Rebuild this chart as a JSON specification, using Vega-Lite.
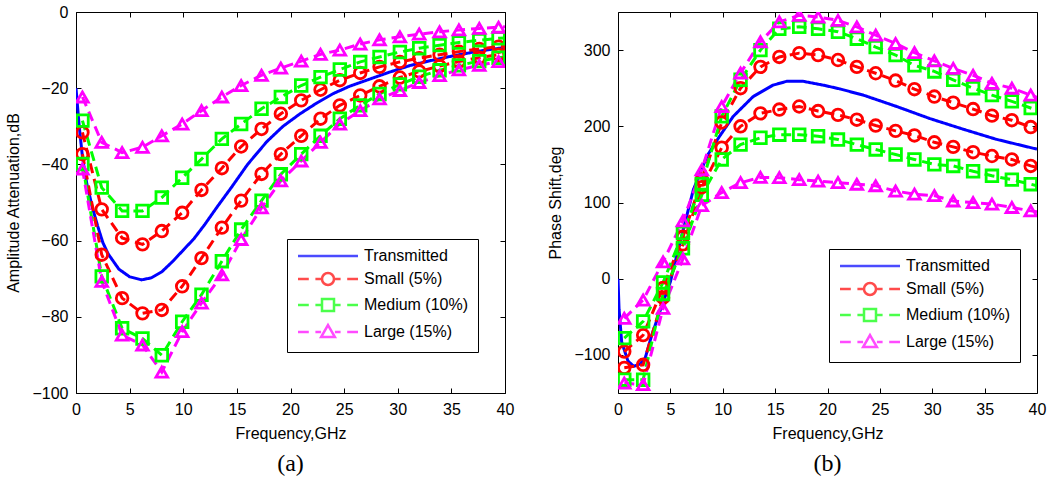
{
"$schema":"https://vega.github.io/schema/vega-lite/v6.json",
"background":"white",
"padding":{"left":5,"top":3,"right":5,"bottom":0},
"spacing":113,
"bounds":"flush",
"config":{
 "font":"Liberation Sans",
 "view":{"stroke":"black","strokeWidth":1},
 "axis":{"labelFont":"Liberation Sans","labelFontSize":16,"labelColor":"black","titleFont":"Liberation Sans","titleFontSize":16,"titleFontWeight":"normal","titleColor":"black","domain":false,"grid":false,"tickColor":"black","tickSize":-5,"tickWidth":1,"labelPadding":13,"labelFlush":false,"labelOverlap":false},
 "title":{"font":"Liberation Serif","fontSize":24,"fontWeight":"normal","color":"black","orient":"bottom","anchor":"middle","offset":11}
},
"datasets":{"c":[
{"p":"a","s":"T","b":"u","f":0,"v":-20,"m":0},{"p":"a","s":"T","b":"u","f":0.3,"v":-30,"m":0},{"p":"a","s":"T","b":"u","f":0.6,"v":-38,"m":0},{"p":"a","s":"T","b":"u","f":1,"v":-45,"m":0},{"p":"a","s":"T","b":"u","f":1.5,"v":-51,"m":0},{"p":"a","s":"T","b":"u","f":2,"v":-56,"m":0},{"p":"a","s":"T","b":"u","f":2.5,"v":-60.5,"m":0},{"p":"a","s":"T","b":"u","f":3,"v":-63.5,"m":0},{"p":"a","s":"T","b":"u","f":4,"v":-67.5,"m":0},{"p":"a","s":"T","b":"u","f":5,"v":-69.5,"m":0},{"p":"a","s":"T","b":"u","f":6.1,"v":-70.3,"m":0},{"p":"a","s":"T","b":"u","f":7,"v":-69.8,"m":0},{"p":"a","s":"T","b":"u","f":8,"v":-68.2,"m":0},{"p":"a","s":"T","b":"u","f":9,"v":-65.5,"m":0},{"p":"a","s":"T","b":"u","f":10,"v":-62.5,"m":0},{"p":"a","s":"T","b":"u","f":11,"v":-59.5,"m":0},{"p":"a","s":"T","b":"u","f":12,"v":-55.8,"m":0},{"p":"a","s":"T","b":"u","f":13.2,"v":-51,"m":0},{"p":"a","s":"T","b":"u","f":14.5,"v":-46,"m":0},{"p":"a","s":"T","b":"u","f":16,"v":-40,"m":0},{"p":"a","s":"T","b":"u","f":17.8,"v":-34,"m":0},{"p":"a","s":"T","b":"u","f":19.3,"v":-30,"m":0},{"p":"a","s":"T","b":"u","f":20.9,"v":-26.7,"m":0},{"p":"a","s":"T","b":"u","f":22.5,"v":-23.8,"m":0},{"p":"a","s":"T","b":"u","f":24,"v":-21.4,"m":0},{"p":"a","s":"T","b":"u","f":25.5,"v":-19.5,"m":0},{"p":"a","s":"T","b":"u","f":27.1,"v":-17.9,"m":0},{"p":"a","s":"T","b":"u","f":29,"v":-16,"m":0},{"p":"a","s":"T","b":"u","f":31.2,"v":-14,"m":0},{"p":"a","s":"T","b":"u","f":33,"v":-12.8,"m":0},{"p":"a","s":"T","b":"u","f":35,"v":-11.6,"m":0},{"p":"a","s":"T","b":"u","f":37.5,"v":-10.3,"m":0},{"p":"a","s":"T","b":"u","f":40,"v":-9.3,"m":0},

{"p":"a","s":"S","b":"u","f":0.6,"v":-31.6,"m":1},{"p":"a","s":"S","b":"u","f":2.4,"v":-51.8,"m":1},{"p":"a","s":"S","b":"u","f":4.3,"v":-59.3,"m":1},{"p":"a","s":"S","b":"u","f":6.2,"v":-61,"m":1},{"p":"a","s":"S","b":"u","f":8,"v":-57.5,"m":1},{"p":"a","s":"S","b":"u","f":9.9,"v":-52.7,"m":1},{"p":"a","s":"S","b":"u","f":11.7,"v":-46.7,"m":1},{"p":"a","s":"S","b":"u","f":13.6,"v":-41,"m":1},{"p":"a","s":"S","b":"u","f":15.4,"v":-35.3,"m":1},{"p":"a","s":"S","b":"u","f":17.3,"v":-30.7,"m":1},{"p":"a","s":"S","b":"u","f":19.1,"v":-26.7,"m":1},{"p":"a","s":"S","b":"u","f":21,"v":-23.2,"m":1},{"p":"a","s":"S","b":"u","f":22.8,"v":-20.4,"m":1},{"p":"a","s":"S","b":"u","f":24.6,"v":-17.9,"m":1},{"p":"a","s":"S","b":"u","f":26.5,"v":-16,"m":1},{"p":"a","s":"S","b":"u","f":28.3,"v":-14.4,"m":1},{"p":"a","s":"S","b":"u","f":30.2,"v":-13.1,"m":1},{"p":"a","s":"S","b":"u","f":32,"v":-12.1,"m":1},{"p":"a","s":"S","b":"u","f":33.9,"v":-11.2,"m":1},{"p":"a","s":"S","b":"u","f":35.7,"v":-10.4,"m":1},{"p":"a","s":"S","b":"u","f":37.6,"v":-9.7,"m":1},{"p":"a","s":"S","b":"u","f":39.4,"v":-9.1,"m":1},{"p":"a","s":"S","b":"u","f":40,"v":-9,"m":0},

{"p":"a","s":"S","b":"l","f":0.6,"v":-37.3,"m":1},{"p":"a","s":"S","b":"l","f":2.4,"v":-63.7,"m":1},{"p":"a","s":"S","b":"l","f":4.3,"v":-75.1,"m":1},{"p":"a","s":"S","b":"l","f":6.2,"v":-79.1,"m":1},{"p":"a","s":"S","b":"l","f":8,"v":-78.2,"m":1},{"p":"a","s":"S","b":"l","f":9.9,"v":-72,"m":1},{"p":"a","s":"S","b":"l","f":11.7,"v":-64.6,"m":1},{"p":"a","s":"S","b":"l","f":13.6,"v":-56.6,"m":1},{"p":"a","s":"S","b":"l","f":15.4,"v":-49.5,"m":1},{"p":"a","s":"S","b":"l","f":17.3,"v":-42.5,"m":1},{"p":"a","s":"S","b":"l","f":19.1,"v":-37.3,"m":1},{"p":"a","s":"S","b":"l","f":21,"v":-32.5,"m":1},{"p":"a","s":"S","b":"l","f":22.8,"v":-28,"m":1},{"p":"a","s":"S","b":"l","f":24.6,"v":-24.5,"m":1},{"p":"a","s":"S","b":"l","f":26.5,"v":-21.9,"m":1},{"p":"a","s":"S","b":"l","f":28.3,"v":-19.5,"m":1},{"p":"a","s":"S","b":"l","f":30.2,"v":-17.2,"m":1},{"p":"a","s":"S","b":"l","f":32,"v":-15.6,"m":1},{"p":"a","s":"S","b":"l","f":33.9,"v":-14.2,"m":1},{"p":"a","s":"S","b":"l","f":35.7,"v":-13,"m":1},{"p":"a","s":"S","b":"l","f":37.6,"v":-12,"m":1},{"p":"a","s":"S","b":"l","f":39.4,"v":-11.2,"m":1},{"p":"a","s":"S","b":"l","f":40,"v":-11,"m":0},

{"p":"a","s":"M","b":"u","f":0.6,"v":-28.5,"m":1},{"p":"a","s":"M","b":"u","f":2.4,"v":-46.1,"m":1},{"p":"a","s":"M","b":"u","f":4.3,"v":-52.2,"m":1},{"p":"a","s":"M","b":"u","f":6.2,"v":-52.2,"m":1},{"p":"a","s":"M","b":"u","f":8,"v":-48.7,"m":1},{"p":"a","s":"M","b":"u","f":9.9,"v":-43.5,"m":1},{"p":"a","s":"M","b":"u","f":11.7,"v":-38.6,"m":1},{"p":"a","s":"M","b":"u","f":13.6,"v":-33.3,"m":1},{"p":"a","s":"M","b":"u","f":15.4,"v":-29.4,"m":1},{"p":"a","s":"M","b":"u","f":17.3,"v":-25.4,"m":1},{"p":"a","s":"M","b":"u","f":19.1,"v":-22.3,"m":1},{"p":"a","s":"M","b":"u","f":21,"v":-19.3,"m":1},{"p":"a","s":"M","b":"u","f":22.8,"v":-17.1,"m":1},{"p":"a","s":"M","b":"u","f":24.6,"v":-15.1,"m":1},{"p":"a","s":"M","b":"u","f":26.5,"v":-13.1,"m":1},{"p":"a","s":"M","b":"u","f":28.3,"v":-11.8,"m":1},{"p":"a","s":"M","b":"u","f":30.2,"v":-10.5,"m":1},{"p":"a","s":"M","b":"u","f":32,"v":-9.5,"m":1},{"p":"a","s":"M","b":"u","f":33.9,"v":-8.7,"m":1},{"p":"a","s":"M","b":"u","f":35.7,"v":-8,"m":1},{"p":"a","s":"M","b":"u","f":37.6,"v":-7.4,"m":1},{"p":"a","s":"M","b":"u","f":39.4,"v":-6.9,"m":1},{"p":"a","s":"M","b":"u","f":40,"v":-6.8,"m":0},

{"p":"a","s":"M","b":"l","f":0.6,"v":-39.9,"m":1},{"p":"a","s":"M","b":"l","f":2.4,"v":-69.4,"m":1},{"p":"a","s":"M","b":"l","f":4.3,"v":-83,"m":1},{"p":"a","s":"M","b":"l","f":6.2,"v":-85.7,"m":1},{"p":"a","s":"M","b":"l","f":8,"v":-90.1,"m":1},{"p":"a","s":"M","b":"l","f":9.9,"v":-81.3,"m":1},{"p":"a","s":"M","b":"l","f":11.7,"v":-74.2,"m":1},{"p":"a","s":"M","b":"l","f":13.6,"v":-65.4,"m":1},{"p":"a","s":"M","b":"l","f":15.4,"v":-57.1,"m":1},{"p":"a","s":"M","b":"l","f":17.3,"v":-49.5,"m":1},{"p":"a","s":"M","b":"l","f":19.1,"v":-42.6,"m":1},{"p":"a","s":"M","b":"l","f":21,"v":-37.3,"m":1},{"p":"a","s":"M","b":"l","f":22.8,"v":-32.5,"m":1},{"p":"a","s":"M","b":"l","f":24.6,"v":-28,"m":1},{"p":"a","s":"M","b":"l","f":26.5,"v":-24.5,"m":1},{"p":"a","s":"M","b":"l","f":28.3,"v":-21.5,"m":1},{"p":"a","s":"M","b":"l","f":30.2,"v":-19,"m":1},{"p":"a","s":"M","b":"l","f":32,"v":-17,"m":1},{"p":"a","s":"M","b":"l","f":33.9,"v":-15.3,"m":1},{"p":"a","s":"M","b":"l","f":35.7,"v":-14,"m":1},{"p":"a","s":"M","b":"l","f":37.6,"v":-12.9,"m":1},{"p":"a","s":"M","b":"l","f":39.4,"v":-12,"m":1},{"p":"a","s":"M","b":"l","f":40,"v":-11.8,"m":0},

{"p":"a","s":"L","b":"u","f":0.6,"v":-22.3,"m":1},{"p":"a","s":"L","b":"u","f":2.4,"v":-34.2,"m":1},{"p":"a","s":"L","b":"u","f":4.3,"v":-36.9,"m":1},{"p":"a","s":"L","b":"u","f":6.2,"v":-35.5,"m":1},{"p":"a","s":"L","b":"u","f":8,"v":-32.5,"m":1},{"p":"a","s":"L","b":"u","f":9.9,"v":-29.4,"m":1},{"p":"a","s":"L","b":"u","f":11.7,"v":-25.9,"m":1},{"p":"a","s":"L","b":"u","f":13.6,"v":-22.3,"m":1},{"p":"a","s":"L","b":"u","f":15.4,"v":-19.3,"m":1},{"p":"a","s":"L","b":"u","f":17.3,"v":-16.6,"m":1},{"p":"a","s":"L","b":"u","f":19.1,"v":-14.7,"m":1},{"p":"a","s":"L","b":"u","f":21,"v":-12.9,"m":1},{"p":"a","s":"L","b":"u","f":22.8,"v":-11.1,"m":1},{"p":"a","s":"L","b":"u","f":24.6,"v":-10,"m":1},{"p":"a","s":"L","b":"u","f":26.5,"v":-8.4,"m":1},{"p":"a","s":"L","b":"u","f":28.3,"v":-7.3,"m":1},{"p":"a","s":"L","b":"u","f":30.2,"v":-6.5,"m":1},{"p":"a","s":"L","b":"u","f":32,"v":-5.8,"m":1},{"p":"a","s":"L","b":"u","f":33.9,"v":-5.2,"m":1},{"p":"a","s":"L","b":"u","f":35.7,"v":-4.7,"m":1},{"p":"a","s":"L","b":"u","f":37.6,"v":-4.3,"m":1},{"p":"a","s":"L","b":"u","f":39.4,"v":-4,"m":1},{"p":"a","s":"L","b":"u","f":40,"v":-3.9,"m":0},

{"p":"a","s":"L","b":"l","f":0.6,"v":-41.2,"m":1},{"p":"a","s":"L","b":"l","f":2.4,"v":-70.7,"m":1},{"p":"a","s":"L","b":"l","f":4.3,"v":-84.8,"m":1},{"p":"a","s":"L","b":"l","f":6.2,"v":-87.4,"m":1},{"p":"a","s":"L","b":"l","f":8,"v":-94.5,"m":1},{"p":"a","s":"L","b":"l","f":9.9,"v":-83.9,"m":1},{"p":"a","s":"L","b":"l","f":11.7,"v":-76.4,"m":1},{"p":"a","s":"L","b":"l","f":13.6,"v":-69,"m":1},{"p":"a","s":"L","b":"l","f":15.4,"v":-59.7,"m":1},{"p":"a","s":"L","b":"l","f":17.3,"v":-51.4,"m":1},{"p":"a","s":"L","b":"l","f":19.1,"v":-44.3,"m":1},{"p":"a","s":"L","b":"l","f":21,"v":-39.1,"m":1},{"p":"a","s":"L","b":"l","f":22.8,"v":-34.2,"m":1},{"p":"a","s":"L","b":"l","f":24.6,"v":-29.4,"m":1},{"p":"a","s":"L","b":"l","f":26.5,"v":-25.9,"m":1},{"p":"a","s":"L","b":"l","f":28.3,"v":-22.8,"m":1},{"p":"a","s":"L","b":"l","f":30.2,"v":-20.6,"m":1},{"p":"a","s":"L","b":"l","f":32,"v":-18.5,"m":1},{"p":"a","s":"L","b":"l","f":33.9,"v":-16.7,"m":1},{"p":"a","s":"L","b":"l","f":35.7,"v":-15.2,"m":1},{"p":"a","s":"L","b":"l","f":37.6,"v":-14,"m":1},{"p":"a","s":"L","b":"l","f":39.4,"v":-13,"m":1},{"p":"a","s":"L","b":"l","f":40,"v":-12.8,"m":0},

{"p":"b","s":"T","b":"u","f":0,"v":0,"m":0},{"p":"b","s":"T","b":"u","f":0.1,"v":-40,"m":0},{"p":"b","s":"T","b":"u","f":0.35,"v":-83,"m":0},{"p":"b","s":"T","b":"u","f":0.95,"v":-108,"m":0},{"p":"b","s":"T","b":"u","f":1.5,"v":-115,"m":0},{"p":"b","s":"T","b":"u","f":2.1,"v":-112,"m":0},{"p":"b","s":"T","b":"u","f":2.6,"v":-104,"m":0},{"p":"b","s":"T","b":"u","f":3.2,"v":-75,"m":0},{"p":"b","s":"T","b":"u","f":4,"v":-43,"m":0},{"p":"b","s":"T","b":"u","f":5,"v":-4,"m":0},{"p":"b","s":"T","b":"u","f":6,"v":52,"m":0},{"p":"b","s":"T","b":"u","f":7.2,"v":117,"m":0},{"p":"b","s":"T","b":"u","f":8.5,"v":161,"m":0},{"p":"b","s":"T","b":"u","f":9.7,"v":187,"m":0},{"p":"b","s":"T","b":"u","f":11,"v":213,"m":0},{"p":"b","s":"T","b":"u","f":12.9,"v":239,"m":0},{"p":"b","s":"T","b":"u","f":14.8,"v":254,"m":0},{"p":"b","s":"T","b":"u","f":16.1,"v":259,"m":0},{"p":"b","s":"T","b":"u","f":17.7,"v":259,"m":0},{"p":"b","s":"T","b":"u","f":19.6,"v":254,"m":0},{"p":"b","s":"T","b":"u","f":21.2,"v":249,"m":0},{"p":"b","s":"T","b":"u","f":23.4,"v":241,"m":0},{"p":"b","s":"T","b":"u","f":26.6,"v":226,"m":0},{"p":"b","s":"T","b":"u","f":29.8,"v":210,"m":0},{"p":"b","s":"T","b":"u","f":33,"v":196,"m":0},{"p":"b","s":"T","b":"u","f":36.1,"v":183,"m":0},{"p":"b","s":"T","b":"u","f":40,"v":170,"m":0},

{"p":"b","s":"S","b":"u","f":0.6,"v":-95.6,"m":1},{"p":"b","s":"S","b":"u","f":2.4,"v":-74,"m":1},{"p":"b","s":"S","b":"u","f":4.3,"v":-12,"m":1},{"p":"b","s":"S","b":"u","f":6.2,"v":55,"m":1},{"p":"b","s":"S","b":"u","f":8,"v":130,"m":1},{"p":"b","s":"S","b":"u","f":9.9,"v":205,"m":1},{"p":"b","s":"S","b":"u","f":11.7,"v":250,"m":1},{"p":"b","s":"S","b":"u","f":13.6,"v":278,"m":1},{"p":"b","s":"S","b":"u","f":15.4,"v":291,"m":1},{"p":"b","s":"S","b":"u","f":17.3,"v":296,"m":1},{"p":"b","s":"S","b":"u","f":19.1,"v":293.5,"m":1},{"p":"b","s":"S","b":"u","f":21,"v":287,"m":1},{"p":"b","s":"S","b":"u","f":22.8,"v":278,"m":1},{"p":"b","s":"S","b":"u","f":24.6,"v":269.6,"m":1},{"p":"b","s":"S","b":"u","f":26.5,"v":260,"m":1},{"p":"b","s":"S","b":"u","f":28.3,"v":248.7,"m":1},{"p":"b","s":"S","b":"u","f":30.2,"v":239,"m":1},{"p":"b","s":"S","b":"u","f":32,"v":231,"m":1},{"p":"b","s":"S","b":"u","f":33.9,"v":222.6,"m":1},{"p":"b","s":"S","b":"u","f":35.7,"v":214,"m":1},{"p":"b","s":"S","b":"u","f":37.6,"v":208,"m":1},{"p":"b","s":"S","b":"u","f":39.4,"v":199,"m":1},{"p":"b","s":"S","b":"u","f":40,"v":196,"m":0},

{"p":"b","s":"S","b":"l","f":0.6,"v":-117,"m":1},{"p":"b","s":"S","b":"l","f":2.4,"v":-113,"m":1},{"p":"b","s":"S","b":"l","f":4.3,"v":-25,"m":1},{"p":"b","s":"S","b":"l","f":6.2,"v":45,"m":1},{"p":"b","s":"S","b":"l","f":8,"v":120,"m":1},{"p":"b","s":"S","b":"l","f":9.9,"v":172,"m":1},{"p":"b","s":"S","b":"l","f":11.7,"v":200,"m":1},{"p":"b","s":"S","b":"l","f":13.6,"v":217,"m":1},{"p":"b","s":"S","b":"l","f":15.4,"v":222,"m":1},{"p":"b","s":"S","b":"l","f":17.3,"v":226,"m":1},{"p":"b","s":"S","b":"l","f":19.1,"v":220,"m":1},{"p":"b","s":"S","b":"l","f":21,"v":215,"m":1},{"p":"b","s":"S","b":"l","f":22.8,"v":208.7,"m":1},{"p":"b","s":"S","b":"l","f":24.6,"v":201,"m":1},{"p":"b","s":"S","b":"l","f":26.5,"v":194,"m":1},{"p":"b","s":"S","b":"l","f":28.3,"v":188,"m":1},{"p":"b","s":"S","b":"l","f":30.2,"v":179,"m":1},{"p":"b","s":"S","b":"l","f":32,"v":173,"m":1},{"p":"b","s":"S","b":"l","f":33.9,"v":166,"m":1},{"p":"b","s":"S","b":"l","f":35.7,"v":161,"m":1},{"p":"b","s":"S","b":"l","f":37.6,"v":156.5,"m":1},{"p":"b","s":"S","b":"l","f":39.4,"v":148,"m":1},{"p":"b","s":"S","b":"l","f":40,"v":146,"m":0},

{"p":"b","s":"M","b":"u","f":0.6,"v":-78,"m":1},{"p":"b","s":"M","b":"u","f":2.4,"v":-56,"m":1},{"p":"b","s":"M","b":"u","f":4.3,"v":-5,"m":1},{"p":"b","s":"M","b":"u","f":6.2,"v":60,"m":1},{"p":"b","s":"M","b":"u","f":8,"v":124,"m":1},{"p":"b","s":"M","b":"u","f":9.9,"v":213,"m":1},{"p":"b","s":"M","b":"u","f":11.7,"v":261,"m":1},{"p":"b","s":"M","b":"u","f":13.6,"v":300,"m":1},{"p":"b","s":"M","b":"u","f":15.4,"v":328,"m":1},{"p":"b","s":"M","b":"u","f":17.3,"v":330.5,"m":1},{"p":"b","s":"M","b":"u","f":19.1,"v":328,"m":1},{"p":"b","s":"M","b":"u","f":21,"v":324,"m":1},{"p":"b","s":"M","b":"u","f":22.8,"v":315,"m":1},{"p":"b","s":"M","b":"u","f":24.6,"v":304,"m":1},{"p":"b","s":"M","b":"u","f":26.5,"v":293.5,"m":1},{"p":"b","s":"M","b":"u","f":28.3,"v":280,"m":1},{"p":"b","s":"M","b":"u","f":30.2,"v":272,"m":1},{"p":"b","s":"M","b":"u","f":32,"v":261,"m":1},{"p":"b","s":"M","b":"u","f":33.9,"v":250,"m":1},{"p":"b","s":"M","b":"u","f":35.7,"v":241,"m":1},{"p":"b","s":"M","b":"u","f":37.6,"v":232.7,"m":1},{"p":"b","s":"M","b":"u","f":39.4,"v":224,"m":1},{"p":"b","s":"M","b":"u","f":40,"v":221,"m":0},

{"p":"b","s":"M","b":"l","f":0.6,"v":-132.5,"m":1},{"p":"b","s":"M","b":"l","f":2.4,"v":-132.5,"m":1},{"p":"b","s":"M","b":"l","f":4.3,"v":-20,"m":1},{"p":"b","s":"M","b":"l","f":6.2,"v":40,"m":1},{"p":"b","s":"M","b":"l","f":8,"v":110,"m":1},{"p":"b","s":"M","b":"l","f":9.9,"v":156.5,"m":1},{"p":"b","s":"M","b":"l","f":11.7,"v":176,"m":1},{"p":"b","s":"M","b":"l","f":13.6,"v":185,"m":1},{"p":"b","s":"M","b":"l","f":15.4,"v":189,"m":1},{"p":"b","s":"M","b":"l","f":17.3,"v":189,"m":1},{"p":"b","s":"M","b":"l","f":19.1,"v":187,"m":1},{"p":"b","s":"M","b":"l","f":21,"v":182.6,"m":1},{"p":"b","s":"M","b":"l","f":22.8,"v":176,"m":1},{"p":"b","s":"M","b":"l","f":24.6,"v":169.6,"m":1},{"p":"b","s":"M","b":"l","f":26.5,"v":163,"m":1},{"p":"b","s":"M","b":"l","f":28.3,"v":156.5,"m":1},{"p":"b","s":"M","b":"l","f":30.2,"v":150,"m":1},{"p":"b","s":"M","b":"l","f":32,"v":148,"m":1},{"p":"b","s":"M","b":"l","f":33.9,"v":141,"m":1},{"p":"b","s":"M","b":"l","f":35.7,"v":135,"m":1},{"p":"b","s":"M","b":"l","f":37.6,"v":130,"m":1},{"p":"b","s":"M","b":"l","f":39.4,"v":124,"m":1},{"p":"b","s":"M","b":"l","f":40,"v":122,"m":0},

{"p":"b","s":"L","b":"u","f":0.6,"v":-52,"m":1},{"p":"b","s":"L","b":"u","f":2.4,"v":-28,"m":1},{"p":"b","s":"L","b":"u","f":4.3,"v":22,"m":1},{"p":"b","s":"L","b":"u","f":6.2,"v":76,"m":1},{"p":"b","s":"L","b":"u","f":8,"v":143,"m":1},{"p":"b","s":"L","b":"u","f":9.9,"v":226,"m":1},{"p":"b","s":"L","b":"u","f":11.7,"v":270,"m":1},{"p":"b","s":"L","b":"u","f":13.6,"v":311,"m":1},{"p":"b","s":"L","b":"u","f":15.4,"v":337,"m":1},{"p":"b","s":"L","b":"u","f":17.3,"v":345.6,"m":1},{"p":"b","s":"L","b":"u","f":19.1,"v":343.5,"m":1},{"p":"b","s":"L","b":"u","f":21,"v":339,"m":1},{"p":"b","s":"L","b":"u","f":22.8,"v":330.5,"m":1},{"p":"b","s":"L","b":"u","f":24.6,"v":319.6,"m":1},{"p":"b","s":"L","b":"u","f":26.5,"v":308.7,"m":1},{"p":"b","s":"L","b":"u","f":28.3,"v":296.6,"m":1},{"p":"b","s":"L","b":"u","f":30.2,"v":286,"m":1},{"p":"b","s":"L","b":"u","f":32,"v":276,"m":1},{"p":"b","s":"L","b":"u","f":33.9,"v":267,"m":1},{"p":"b","s":"L","b":"u","f":35.7,"v":256.5,"m":1},{"p":"b","s":"L","b":"u","f":37.6,"v":250,"m":1},{"p":"b","s":"L","b":"u","f":39.4,"v":241,"m":1},{"p":"b","s":"L","b":"u","f":40,"v":238,"m":0},

{"p":"b","s":"L","b":"l","f":0.6,"v":-137,"m":1},{"p":"b","s":"L","b":"l","f":2.4,"v":-139,"m":1},{"p":"b","s":"L","b":"l","f":4.3,"v":-39,"m":1},{"p":"b","s":"L","b":"l","f":6.2,"v":26,"m":1},{"p":"b","s":"L","b":"l","f":8,"v":96,"m":1},{"p":"b","s":"L","b":"l","f":9.9,"v":113,"m":1},{"p":"b","s":"L","b":"l","f":11.7,"v":126,"m":1},{"p":"b","s":"L","b":"l","f":13.6,"v":133,"m":1},{"p":"b","s":"L","b":"l","f":15.4,"v":132.6,"m":1},{"p":"b","s":"L","b":"l","f":17.3,"v":130,"m":1},{"p":"b","s":"L","b":"l","f":19.1,"v":128,"m":1},{"p":"b","s":"L","b":"l","f":21,"v":126,"m":1},{"p":"b","s":"L","b":"l","f":22.8,"v":124,"m":1},{"p":"b","s":"L","b":"l","f":24.6,"v":122,"m":1},{"p":"b","s":"L","b":"l","f":26.5,"v":115,"m":1},{"p":"b","s":"L","b":"l","f":28.3,"v":111,"m":1},{"p":"b","s":"L","b":"l","f":30.2,"v":109,"m":1},{"p":"b","s":"L","b":"l","f":32,"v":102,"m":1},{"p":"b","s":"L","b":"l","f":33.9,"v":100,"m":1},{"p":"b","s":"L","b":"l","f":35.7,"v":98,"m":1},{"p":"b","s":"L","b":"l","f":37.6,"v":93.5,"m":1},{"p":"b","s":"L","b":"l","f":39.4,"v":89,"m":1},{"p":"b","s":"L","b":"l","f":40,"v":88,"m":0}
]},
"hconcat":[
{
 "width":429,"height":381,
 "title":{"text":"(a)"},
 "resolve":{"scale":{"shape":"independent","stroke":"independent"},"axis":{"x":"independent","y":"independent"}},
 "layer":[
  {"data":{"name":"c"},"transform":[{"filter":"datum.p=='a'"}],
   "mark":{"type":"line","strokeWidth":3,"clip":true},
   "encoding":{
    "x":{"field":"f","type":"quantitative","scale":{"domain":[0,40],"nice":false},"axis":{"values":[0,5,10,15,20,25,30,35,40],"title":"Frequency,GHz","titlePadding":8}},
    "y":{"field":"v","type":"quantitative","scale":{"domain":[-100,0],"nice":false},"axis":{"values":[-100,-80,-60,-40,-20,0],"title":"Amplitude Attenuation,dB","titlePadding":10}},
    "color":{"field":"s","type":"nominal","scale":{"domain":["T","S","M","L"],"range":["#0000ff","#ff0000","#00ff00","#ff00ff"]},"legend":null},
    "strokeDash":{"field":"s","type":"nominal","scale":{"domain":["T","S","M","L"],"range":[[1,0],[10,6],[10,6],[10,6]]},"legend":null},
    "detail":{"field":"b"}
   }},
  {"data":{"name":"c"},"transform":[{"filter":"datum.p=='a' && datum.m==1"}],
   "mark":{"type":"point","filled":false,"strokeWidth":2.8,"opacity":1,"clip":true},
   "encoding":{
    "x":{"field":"f","type":"quantitative","axis":{"orient":"top","values":[0,5,10,15,20,25,30,35,40],"labels":false,"title":null}},
    "y":{"field":"v","type":"quantitative","axis":{"orient":"right","values":[-100,-80,-60,-40,-20,0],"labels":false,"title":null}},
    "color":{"field":"s","type":"nominal","legend":null},
    "shape":{"field":"s","type":"nominal","scale":{"domain":["S","M","L"],"range":["circle","square","triangle-up"]},"legend":null},
    "size":{"field":"s","type":"nominal","scale":{"domain":["S","M","L"],"range":[135,135,190]},"legend":null}
   }},
  {"data":{"name":"c"},"transform":[{"filter":"false"}],
   "mark":{"type":"point","filled":false,"strokeWidth":2.5},
   "encoding":{
    "stroke":{"field":"s","type":"nominal","scale":{"domain":["T","S","M","L"],"range":["#0000ff","#ff0000","#00ff00","#ff00ff"]},
      "legend":{"orient":"none","legendX":211,"legendY":227,"title":null,"fillColor":"white","strokeColor":"black","padding":9,"symbolSize":144,"symbolStrokeWidth":2.5,"labelOffset":52,"labelFontSize":16,"labelFont":"Liberation Sans","labelColor":"black","rowPadding":4,"labelExpr":"{'T':'Transmitted','S':'Small (5%)','M':'Medium (10%)','L':'Large (15%)'}[datum.label]"}},
    "shape":{"field":"s","type":"nominal","scale":{"domain":["T","S","M","L"],"range":["M-1,0H9","M-1,0H0.8M1.9,0H3M5,0H6.1M7.2,0H9M5,0A1,1,0,1,1,3,0A1,1,0,1,1,5,0","M-1,0H0.8M1.9,0H3M5,0H6.1M7.2,0H9M3,-1H5V1H3Z","M-1,0H0.8M1.9,0H2.85M5.15,0H6.1M7.2,0H9M4,-1.15L5.15,0.85H2.85Z"]},
      "legend":{"orient":"none","legendX":211,"legendY":227,"title":null,"fillColor":"white","strokeColor":"black","padding":9,"symbolSize":144,"symbolStrokeWidth":2.5,"labelOffset":52,"labelFontSize":16,"labelFont":"Liberation Sans","labelColor":"black","rowPadding":4,"labelExpr":"{'T':'Transmitted','S':'Small (5%)','M':'Medium (10%)','L':'Large (15%)'}[datum.label]"}}
   }}
 ]
},
{
 "width":419,"height":381,
 "title":{"text":"(b)"},
 "resolve":{"scale":{"shape":"independent","stroke":"independent"},"axis":{"x":"independent","y":"independent"}},
 "layer":[
  {"data":{"name":"c"},"transform":[{"filter":"datum.p=='b'"}],
   "mark":{"type":"line","strokeWidth":3,"clip":true},
   "encoding":{
    "x":{"field":"f","type":"quantitative","scale":{"domain":[0,40],"nice":false},"axis":{"values":[0,5,10,15,20,25,30,35,40],"title":"Frequency,GHz","titlePadding":8}},
    "y":{"field":"v","type":"quantitative","scale":{"domain":[-150,350],"nice":false,"zero":false},"axis":{"values":[-100,0,100,200,300],"title":"Phase Shift,deg","titlePadding":10}},
    "color":{"field":"s","type":"nominal","scale":{"domain":["T","S","M","L"],"range":["#0000ff","#ff0000","#00ff00","#ff00ff"]},"legend":null},
    "strokeDash":{"field":"s","type":"nominal","scale":{"domain":["T","S","M","L"],"range":[[1,0],[10,6],[10,6],[10,6]]},"legend":null},
    "detail":{"field":"b"}
   }},
  {"data":{"name":"c"},"transform":[{"filter":"datum.p=='b' && datum.m==1"}],
   "mark":{"type":"point","filled":false,"strokeWidth":2.8,"opacity":1,"clip":true},
   "encoding":{
    "x":{"field":"f","type":"quantitative","axis":{"orient":"top","values":[0,5,10,15,20,25,30,35,40],"labels":false,"title":null}},
    "y":{"field":"v","type":"quantitative","axis":{"orient":"right","values":[-100,0,100,200,300],"labels":false,"title":null}},
    "color":{"field":"s","type":"nominal","legend":null},
    "shape":{"field":"s","type":"nominal","scale":{"domain":["S","M","L"],"range":["circle","square","triangle-up"]},"legend":null},
    "size":{"field":"s","type":"nominal","scale":{"domain":["S","M","L"],"range":[135,135,190]},"legend":null}
   }},
  {"data":{"name":"c"},"transform":[{"filter":"false"}],
   "mark":{"type":"point","filled":false,"strokeWidth":2.5},
   "encoding":{
    "stroke":{"field":"s","type":"nominal","scale":{"domain":["T","S","M","L"],"range":["#0000ff","#ff0000","#00ff00","#ff00ff"]},
      "legend":{"orient":"none","legendX":211,"legendY":237,"title":null,"fillColor":"white","strokeColor":"black","padding":9,"symbolSize":144,"symbolStrokeWidth":2.5,"labelOffset":52,"labelFontSize":16,"labelFont":"Liberation Sans","labelColor":"black","rowPadding":4,"labelExpr":"{'T':'Transmitted','S':'Small (5%)','M':'Medium (10%)','L':'Large (15%)'}[datum.label]"}},
    "shape":{"field":"s","type":"nominal","scale":{"domain":["T","S","M","L"],"range":["M-1,0H9","M-1,0H0.8M1.9,0H3M5,0H6.1M7.2,0H9M5,0A1,1,0,1,1,3,0A1,1,0,1,1,5,0","M-1,0H0.8M1.9,0H3M5,0H6.1M7.2,0H9M3,-1H5V1H3Z","M-1,0H0.8M1.9,0H2.85M5.15,0H6.1M7.2,0H9M4,-1.15L5.15,0.85H2.85Z"]},
      "legend":{"orient":"none","legendX":211,"legendY":237,"title":null,"fillColor":"white","strokeColor":"black","padding":9,"symbolSize":144,"symbolStrokeWidth":2.5,"labelOffset":52,"labelFontSize":16,"labelFont":"Liberation Sans","labelColor":"black","rowPadding":4,"labelExpr":"{'T':'Transmitted','S':'Small (5%)','M':'Medium (10%)','L':'Large (15%)'}[datum.label]"}}
   }}
 ]
}
]
}
